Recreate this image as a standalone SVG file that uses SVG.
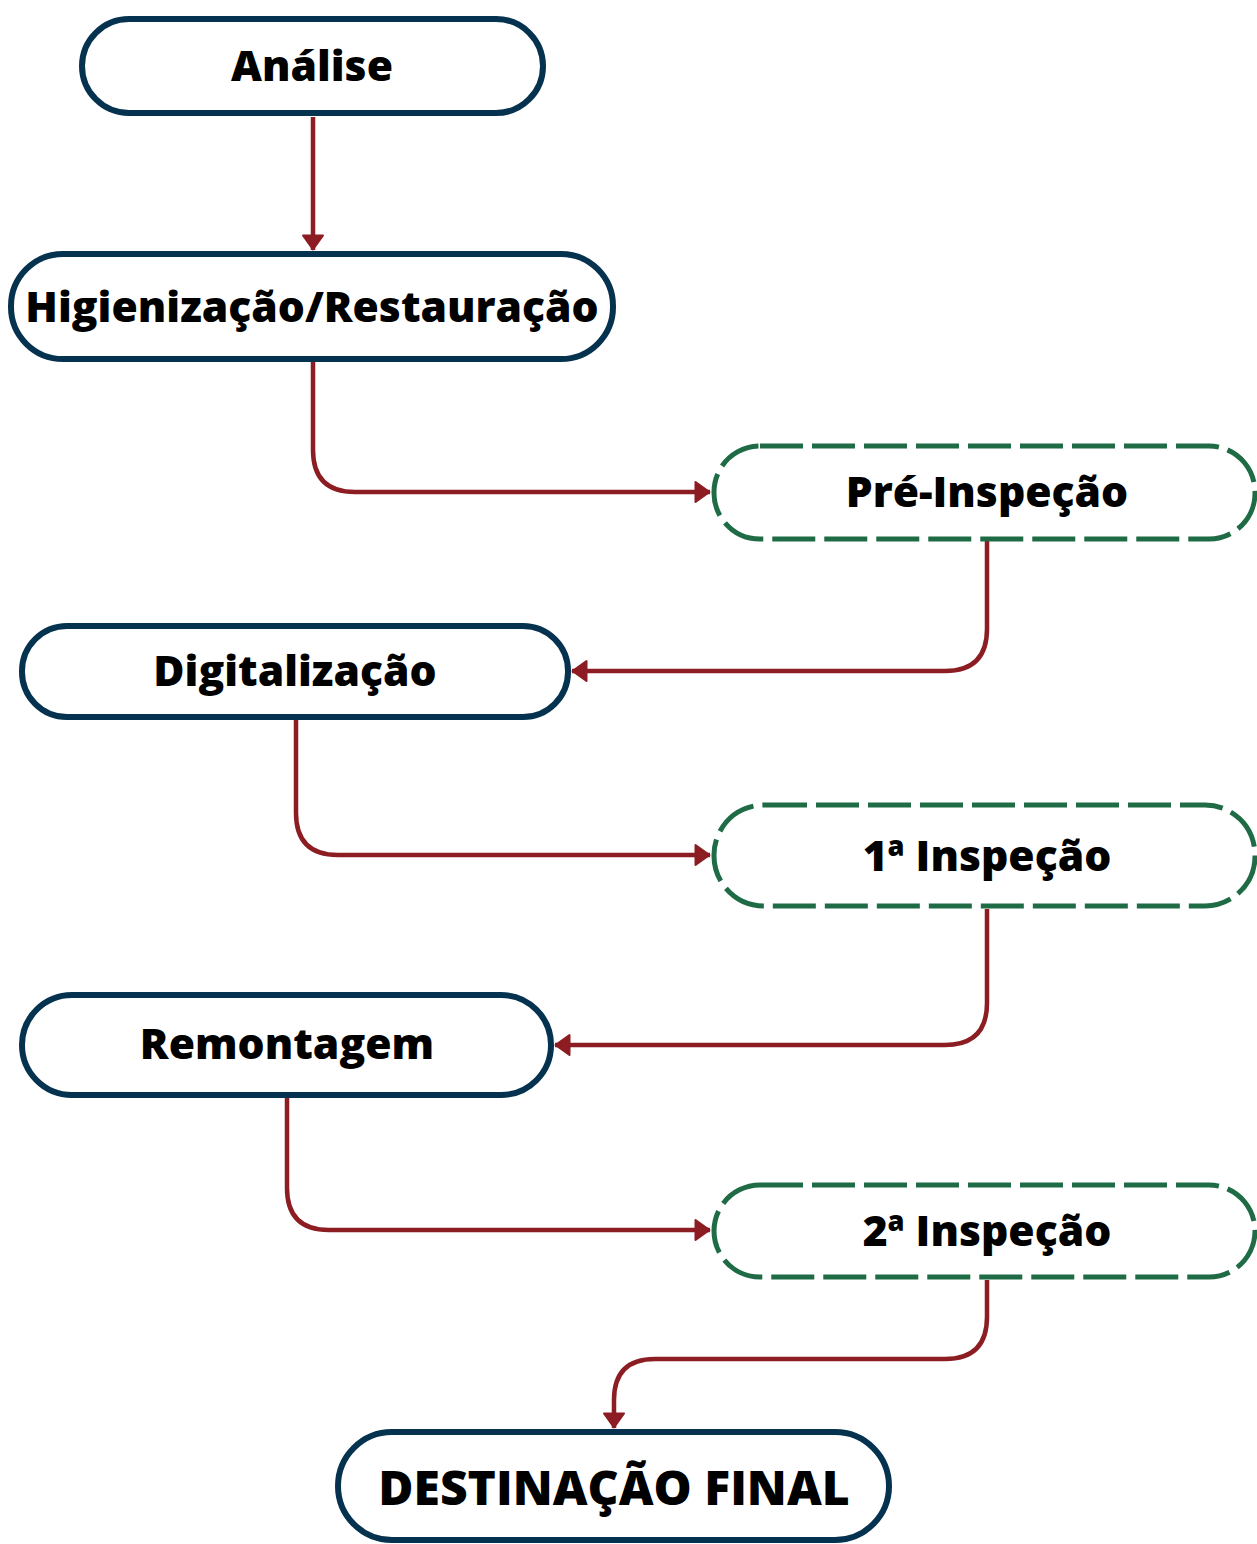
<svg xmlns="http://www.w3.org/2000/svg" width="1257" height="1544" viewBox="0 0 1257 1544">
<style>
.solid{fill:#fff;stroke:#05324f;stroke-width:6}
.dash{fill:#fff;stroke:#1f6b46;stroke-width:5;stroke-dasharray:43 9}
.lbl{font-family:"Open Sans","DejaVu Sans",sans-serif;font-weight:800;font-size:42.6px;fill:#000;text-anchor:middle;dominant-baseline:central}
.big{font-size:48px}
.con{fill:none;stroke:#8c1d22;stroke-width:4.5}
</style>
<defs>
<marker id="ah" viewBox="0 0 17 24" refX="16" refY="12" markerWidth="17" markerHeight="24" markerUnits="userSpaceOnUse" orient="auto">
<path d="M1.5,2 L15.5,12 L1.5,22 Z" fill="#8c1d22" stroke="#8c1d22" stroke-width="2" stroke-linejoin="round"/>
</marker>
</defs>
<g id="connectors">
<path class="con" marker-end="url(#ah)" d="M313,117 V250"/>
<path class="con" marker-end="url(#ah)" d="M313,362 V450 Q313,492 355,492 H710"/>
<path class="con" marker-end="url(#ah)" d="M987,541 V629 Q987,671 945,671 H572"/>
<path class="con" marker-end="url(#ah)" d="M296,720 V813 Q296,855 338,855 H710"/>
<path class="con" marker-end="url(#ah)" d="M987,909 V1003 Q987,1045 945,1045 H555"/>
<path class="con" marker-end="url(#ah)" d="M287,1098 V1188 Q287,1230 329,1230 H710"/>
<path class="con" marker-end="url(#ah)" d="M987,1280 V1317 Q987,1359 945,1359 H655 Q614,1359 614,1400 V1428"/>
</g>
<g id="analise">
<rect class="solid" x="82" y="19" width="461" height="94" rx="47"/>
<text class="lbl" x="312" y="64">Análise</text>
</g>
<g id="higienizacao">
<rect class="solid" x="11" y="254" width="602" height="105" rx="52"/>
<text class="lbl" x="312" y="305">Higienização/Restauração</text>
</g>
<g id="pre-inspecao">
<rect class="dash" x="714" y="446" width="541" height="93" rx="46"/>
<text class="lbl" x="987" y="490">Pré-Inspeção</text>
</g>
<g id="digitalizacao">
<rect class="solid" x="22" y="626" width="546" height="91" rx="45"/>
<text class="lbl" x="295" y="669">Digitalização</text>
</g>
<g id="inspecao1">
<rect class="dash" x="714" y="805" width="541" height="101" rx="50"/>
<text class="lbl" x="987" y="854">1ª Inspeção</text>
</g>
<g id="remontagem">
<rect class="solid" x="22" y="995" width="529" height="100" rx="50"/>
<text class="lbl" x="287" y="1042">Remontagem</text>
</g>
<g id="inspecao2">
<rect class="dash" x="714" y="1185" width="541" height="92" rx="46"/>
<text class="lbl" x="987" y="1229">2ª Inspeção</text>
</g>
<g id="destinacao">
<rect class="solid" x="338" y="1432" width="551" height="108" rx="54"/>
<text class="lbl big" x="614" y="1486">DESTINAÇÃO FINAL</text>
</g>
</svg>
